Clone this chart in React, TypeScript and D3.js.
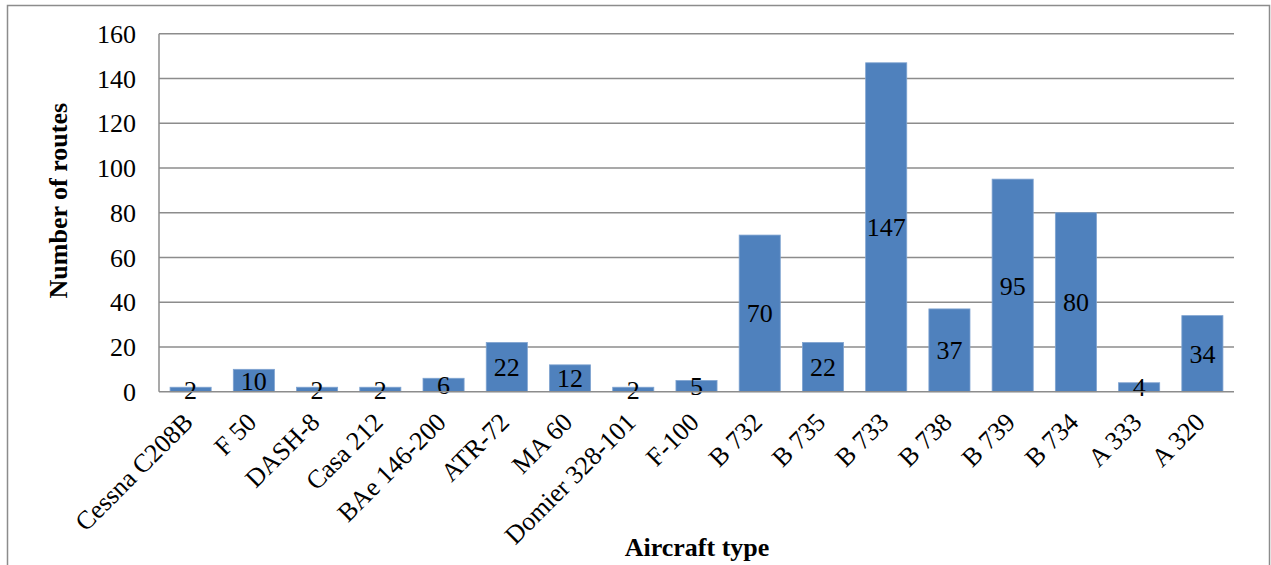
import React from "react";
import * as d3 from "d3";

const categories = [
  "Cessna C208B", "F 50", "DASH-8", "Casa 212", "BAe 146-200", "ATR-72", "MA 60",
  "Domier 328-101", "F-100", "B 732", "B 735", "B 733", "B 738", "B 739", "B 734", "A 333", "A 320",
];
const values = [2, 10, 2, 2, 6, 22, 12, 2, 5, 70, 22, 147, 37, 95, 80, 4, 34];
const yTicks = [0, 20, 40, 60, 80, 100, 120, 140, 160];

const W = 1271;
const H = 565;
const M = { left: 159, right: 1234, top: 33.7, bottom: 391.7 };
const FONT = "Liberation Serif, Times New Roman, serif";
const FS = 26;

export default function App() {
  const x = d3.scaleBand<string>().domain(categories).range([M.left, M.right]).paddingInner(0.35).paddingOuter(0.175);
  const y = d3.scaleLinear().domain([0, 160]).range([M.bottom, M.top]);
  return (
    <svg width={W} height={H} style={{ position: "absolute", left: 0, top: 0, background: "#fff" }} fontFamily={FONT}>
      <rect x={7.5} y={5.5} width={1262} height={600} fill="none" stroke="#8c8c8c" strokeWidth={1.5} />
      {yTicks.map((t) => (
        <g key={t}>
          {t > 0 && <line x1={M.left} x2={M.right} y1={y(t)} y2={y(t)} stroke="#8c8c8c" strokeWidth={1.5} />}
          <text x={136} y={y(t)} dy="0.35em" textAnchor="end" fontSize={FS} fill="#000">{t}</text>
        </g>
      ))}
      <line x1={M.left} x2={M.left} y1={M.top} y2={M.bottom} stroke="#8c8c8c" strokeWidth={1.5} />
      {categories.map((c, i) => {
        const bx = x(c)!;
        const bw = x.bandwidth();
        const y0 = y(values[i]);
        return (
          <g key={c}>
            <rect x={bx} y={y0} width={bw} height={M.bottom - y0} fill="#4f81bd" stroke="#7fa3d0" strokeWidth={0.8} />
            <text x={bx + bw / 2} y={(y0 + M.bottom) / 2} dy="0.35em" textAnchor="middle" fontSize={FS} fill="#000">{values[i]}</text>
          </g>
        );
      })}
      <line x1={M.left} x2={M.right} y1={M.bottom} y2={M.bottom} stroke="#8c8c8c" strokeWidth={1.5} />
      {categories.map((c) => {
        const cx = x(c)! + x.bandwidth() / 2;
        return (
          <text key={c} transform={`translate(${cx + 4},${M.bottom + 32}) rotate(-45)`} textAnchor="end" fontSize={FS} fill="#000">{c}</text>
        );
      })}
      <text transform={`translate(67,${(M.top + M.bottom) / 2 - 12}) rotate(-90)`} textAnchor="middle" fontSize={FS} fontWeight="bold" fill="#000">Number of routes</text>
      <text x={697} y={556} textAnchor="middle" fontSize={FS} fontWeight="bold" fill="#000">Aircraft type</text>
    </svg>
  );
}
